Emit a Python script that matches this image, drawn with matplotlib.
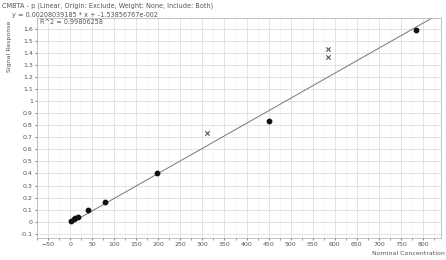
import numpy as np
import matplotlib.pyplot as plt

plt.rcParams.update({
    "font.family": "DejaVu Sans",
    "font.size": 4.5,
})

# calibration standards (included)
conc_used = [2, 8, 12, 18, 40, 80, 198, 450, 784]
resp_used = [0.005, 0.02, 0.03, 0.04, 0.10, 0.167, 0.40, 0.84, 1.59]

# flagged / excluded points
conc_excl = [311, 584, 584]
resp_excl = [0.74, 1.43, 1.37]

slope = 0.00208
intercept = -0.015
line_x = [0, 834]

x_ticks = np.arange(-50, 801, 50)
y_ticks = np.round(np.arange(-0.1, 1.61, 0.1), 1)

title = "CMBTA - p (Linear, Origin: Exclude, Weight: None, Include: Both)"
eq = "y = 0.00208039185 * x + -1.53856767e-002"
r2 = "R^2 = 0.99806258"

fig = plt.figure(figsize=(4.46, 2.6), dpi=100)
ax = fig.add_axes([0.083, 0.085, 0.905, 0.845])

ax.plot(line_x, [slope * v + intercept for v in line_x], color="#777777", lw=0.7, zorder=2)
ax.scatter(conc_used, resp_used, s=10, color="#111111", zorder=3)
ax.scatter(conc_excl, resp_excl, s=10, marker="x", color="#555555", lw=0.8, zorder=3)

ax.set_xlim(-75, 840)
ax.set_ylim(-0.135, 1.69)
ax.set_xticks(x_ticks)
ax.set_yticks(y_ticks)
ax.set_yticklabels([f"{v:g}" for v in y_ticks])
ax.set_xticks(np.arange(-75, 840, 25), minor=True)
ax.grid(True, which="major", color="#d8d8d8", lw=0.5)
ax.grid(True, which="minor", color="#eeeeee", lw=0.4)
ax.tick_params(which="both", length=1.5, colors="#888888", labelcolor="#555555", pad=1.5)
for s in ax.spines.values():
    s.set_color("#aaaaaa")
    s.set_linewidth(0.5)

ax.set_xlabel("Nominal Concentration", color="#555555", labelpad=1)
ax.xaxis.set_label_coords(0.92, -0.06)
fig.text(0.015, 0.92, "Signal Response", rotation=90, ha="left", va="top", color="#555555")

fig.text(0.005, 0.99, title, ha="left", va="top", color="#555555", fontsize=4.7)
fig.text(0.028, 0.955, eq, ha="left", va="top", color="#555555", fontsize=4.7)
fig.text(0.09, 0.925, r2, ha="left", va="top", color="#555555", fontsize=4.7)

fig.savefig("out.png", dpi=100)
